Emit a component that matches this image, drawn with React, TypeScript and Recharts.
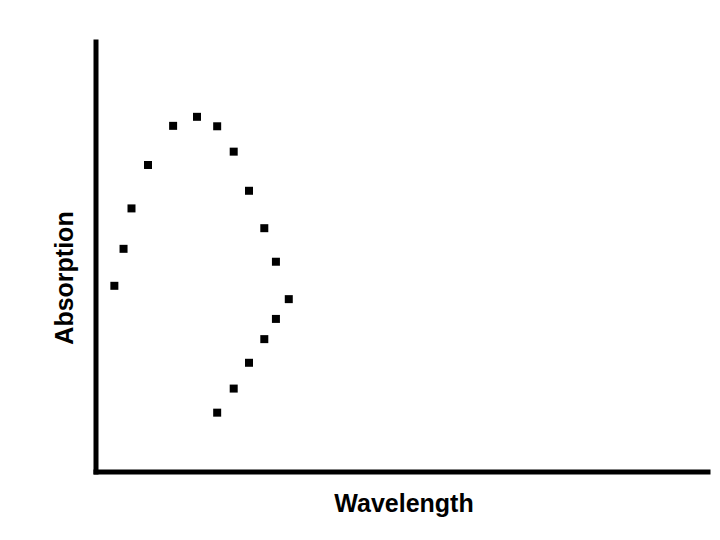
import React from "react";
import { ScatterChart, Scatter, XAxis, YAxis } from "recharts";

// wavelength (arbitrary units, 0..100)
const wavelength = [3.0, 4.5, 5.8, 8.5, 12.6, 16.5, 19.8, 22.5, 25.0, 27.5, 29.4, 31.5, 29.4, 27.5, 25.0, 22.5, 19.8];
// absorption (arbitrary units, 0..100)
const absorption = [43.3, 51.9, 61.3, 71.4, 80.5, 82.6, 80.4, 74.5, 65.4, 56.7, 48.9, 40.2, 35.6, 30.9, 25.4, 19.4, 13.8];

const points = wavelength.map((x, i) => ({ x, y: absorption[i] }));

const axisLine = { stroke: "#000", strokeWidth: 5, strokeLinecap: "square" as const };
const labelStyle = {
  fill: "#000",
  fontFamily: "'Liberation Sans', Arial, sans-serif",
  fontWeight: "bold",
  fontSize: 25,
};

export default function App() {
  return (
    <div style={{ position: "absolute", left: 0, top: 0, background: "#fff" }}>
      <ScatterChart
        width={720}
        height={540}
        margin={{ top: 42, right: 12, left: 0, bottom: 0 }}
      >
        <XAxis
          type="number"
          dataKey="x"
          domain={[0, 100]}
          height={68}
          tick={false}
          tickLine={false}
          axisLine={axisLine}
          label={{ value: "Wavelength", position: "center", dx: 2, dy: -3, style: labelStyle }}
        />
        <YAxis
          type="number"
          dataKey="y"
          domain={[0, 100]}
          width={96}
          tick={false}
          tickLine={false}
          axisLine={axisLine}
          label={{ value: "Absorption", position: "center", angle: -90, dx: 16, dy: 21, style: labelStyle }}
        />
        <Scatter
          data={points}
          fill="#000"
          shape="square"
          legendType="none"
          isAnimationActive={false}
        />
      </ScatterChart>
    </div>
  );
}
